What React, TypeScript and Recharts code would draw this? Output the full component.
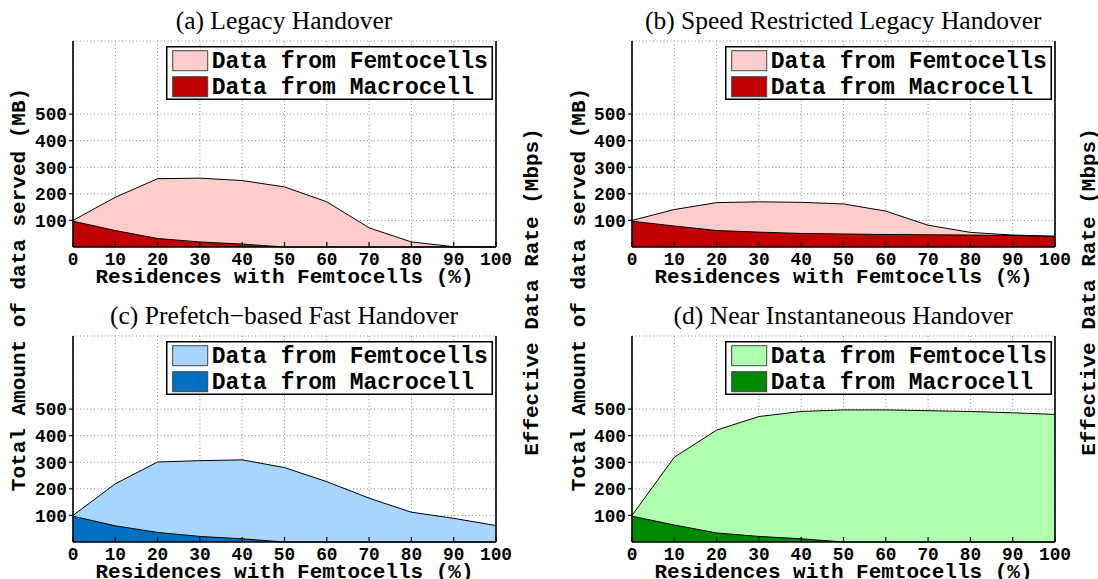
import React from 'react';
import { AreaChart, Area, XAxis, YAxis, CartesianGrid, Legend } from 'recharts';

// ---- data ----
const residences = [0, 10, 20, 30, 40, 50, 60, 70, 80, 90, 100];
const xTicks = [0, 10, 20, 30, 40, 50, 60, 70, 80, 90, 100];
const leftTicks = [100, 200, 300, 400, 500];
const rightTicks = [2, 4, 6, 8, 10];

const legacyTotal = [100, 187, 257, 259, 250, 226, 170, 72, 19, 1, 0];
const legacyMacro = [97, 62, 32, 19, 11, 0, 0, 0, 0, 0, 0];

const speedTotal = [100, 141, 167, 170, 168, 162, 135, 82, 55, 45, 40.5];
const speedMacro = [97, 79, 62, 56, 51, 49, 47, 46, 45, 43, 40];

const prefetchTotal = [100, 219, 301, 306, 309, 280, 227, 165, 112, 89, 62];
const prefetchMacro = [97, 61, 36, 21, 12, 0, 0, 0, 0, 0, 0];

const instantTotal = [100, 319, 421, 472, 491, 497, 497, 494, 491, 486, 480];
const instantMacro = [97, 64, 34, 21, 12, 0, 0, 0, 0, 0, 0];

const titles = [
  '(a) Legacy Handover',
  '(b) Speed Restricted Legacy Handover',
  '(c) Prefetch\u2212based Fast Handover',
  '(d) Near Instantaneous Handover',
];
const legendLabels = ['Data from Femtocells', 'Data from Macrocell'];
const xLabel = 'Residences with Femtocells (%)';
const yLeftLabel = 'Total Amount of data served (MB)';
const yRightLabel = 'Effective Data Rate (Mbps)';

// ---- layout ----
const PLOT_W = 423;
const PLOT_H = 206;
const Y_MAX = 775;
const AX_L = 60;
const AX_R = 60;
const M_TOP = 5;
const AX_B = 40;
const MONO = '"Liberation Mono", "Courier New", monospace';
const SERIF = '"Liberation Serif", "Times New Roman", serif';

const COL_X = [72.5, 631.7];
const ROW_Y = [41.4, 336.3];

const build = (total: number[], macro: number[]) =>
  residences.map((x, i) => ({ x, total: total[i], macro: macro[i] }));

const panels = [
  { title: titles[0], data: build(legacyTotal, legacyMacro), femto: '#FFCCCC', macro: '#C00000', col: 0, row: 0 },
  { title: titles[1], data: build(speedTotal, speedMacro), femto: '#FFCCCC', macro: '#C00000', col: 1, row: 0 },
  { title: titles[2], data: build(prefetchTotal, prefetchMacro), femto: '#A6D6FF', macro: '#0070C0', col: 0, row: 1 },
  { title: titles[3], data: build(instantTotal, instantMacro), femto: '#AEFFAE', macro: '#008A00', col: 1, row: 1 },
];

const LegendBox = ({ femto, macro }: { femto: string; macro: string }) => (
  <svg width={327} height={54} style={{ display: 'block' }}>
    <rect x={0.75} y={0.75} width={325.5} height={52.5} fill="#fff" stroke="#000" strokeWidth={1.5} />
    <rect x={6.7} y={4.7} width={35} height={20} fill={femto} stroke="#444" strokeWidth={1} />
    <rect x={6.7} y={30.7} width={35} height={20} fill={macro} stroke="#444" strokeWidth={1} />
    <text x={45.7} y={22.3} fontFamily={MONO} fontWeight="bold" fontSize={23} fill="#000">
      {legendLabels[0]}
    </text>
    <text x={45.7} y={48} fontFamily={MONO} fontWeight="bold" fontSize={23} fill="#000">
      {legendLabels[1]}
    </text>
  </svg>
);

const tickStyle = { fill: '#000', fontSize: 17.8, fontFamily: MONO, fontWeight: 'bold' };
const axisLine = { stroke: '#000', strokeWidth: 1.6 };
const tickLine = { stroke: '#000', strokeWidth: 1.2 };

const Panel = ({ p }: { p: (typeof panels)[number] }) => {
  const L = COL_X[p.col];
  const T = ROW_Y[p.row];
  return (
    <div style={{ position: 'absolute', left: L - AX_L, top: T - M_TOP }}>
      <AreaChart
        width={AX_L + PLOT_W + AX_R}
        height={M_TOP + PLOT_H + AX_B}
        data={p.data}
        margin={{ top: M_TOP, right: 0, bottom: 0, left: 0 }}
      >
        <Area
          type="linear"
          dataKey="total"
          fill={p.femto}
          fillOpacity={1}
          stroke="#000"
          strokeWidth={1}
          dot={false}
          activeDot={false}
          isAnimationActive={false}
        />
        <Area
          type="linear"
          dataKey="macro"
          fill={p.macro}
          fillOpacity={1}
          stroke="#000"
          strokeWidth={1}
          dot={false}
          activeDot={false}
          isAnimationActive={false}
        />
        <CartesianGrid stroke="#8a8a8a" strokeDasharray="1 2.5" strokeWidth={1} />
        <XAxis
          dataKey="x"
          type="number"
          domain={[0, 100]}
          ticks={xTicks}
          interval={0}
          height={AX_B}
          tickSize={-5}
          tickMargin={10.5}
          tick={tickStyle}
          axisLine={axisLine}
          tickLine={tickLine}
          label={{
            value: xLabel,
            position: 'insideBottom',
            offset: 4.5,
            style: { fill: '#000', fontSize: 21, fontFamily: MONO, fontWeight: 'bold' },
          }}
        />
        <XAxis
          xAxisId="top"
          orientation="top"
          dataKey="x"
          type="number"
          domain={[0, 100]}
          ticks={xTicks}
          interval={0}
          height={0}
          tickSize={-5}
          tick={false}
          axisLine={axisLine}
          tickLine={tickLine}
        />
        <YAxis
          type="number"
          domain={[0, Y_MAX]}
          ticks={leftTicks}
          interval={0}
          width={AX_L}
          tickSize={4}
          tickMargin={2}
          tick={tickStyle}
          axisLine={axisLine}
          tickLine={tickLine}
        />
        <YAxis
          yAxisId="r"
          orientation="right"
          type="number"
          domain={[0, Y_MAX / 50]}
          ticks={rightTicks}
          interval={0}
          width={AX_R}
          tickSize={4}
          tickMargin={1}
          tick={tickStyle}
          axisLine={axisLine}
          tickLine={tickLine}
        />
        <Legend
          layout="horizontal"
          verticalAlign="middle"
          align="center"
          wrapperStyle={{ position: 'absolute', left: AX_L + 93.7, top: M_TOP + 4.3, width: 327, height: 54 }}
          content={() => <LegendBox femto={p.femto} macro={p.macro} />}
        />
      </AreaChart>
    </div>
  );
};

export default function App() {
  return (
    <div
      style={{
        position: 'absolute',
        left: 0,
        top: 0,
        width: 1098,
        height: 579,
        background: '#fff',
        overflow: 'hidden',
      }}
    >
      {panels.map((p, i) => (
        <Panel key={i} p={p} />
      ))}
      <svg
        width={1098}
        height={579}
        style={{ position: 'absolute', left: 0, top: 0, pointerEvents: 'none' }}
      >
        {panels.map((p, i) => (
          <text
            key={i}
            x={COL_X[p.col] + PLOT_W / 2}
            y={ROW_Y[p.row] - 12.4}
            textAnchor="middle"
            fontFamily={SERIF}
            fontSize={25.5}
            fill="#000"
          >
            {p.title}
          </text>
        ))}
        {[25, 584.7].map((bx, i) => (
          <text
            key={'l' + i}
            x={bx}
            y={289.5}
            transform={`rotate(-90, ${bx}, 289.5)`}
            textAnchor="middle"
            fontFamily={MONO}
            fontWeight="bold"
            fontSize={21}
            fill="#000"
          >
            {yLeftLabel}
          </text>
        ))}
        {[538, 1094.7].map((bx, i) => (
          <text
            key={'r' + i}
            x={bx}
            y={292}
            transform={`rotate(-90, ${bx}, 292)`}
            textAnchor="middle"
            fontFamily={MONO}
            fontWeight="bold"
            fontSize={21}
            fill="#000"
          >
            {yRightLabel}
          </text>
        ))}
      </svg>
    </div>
  );
}
